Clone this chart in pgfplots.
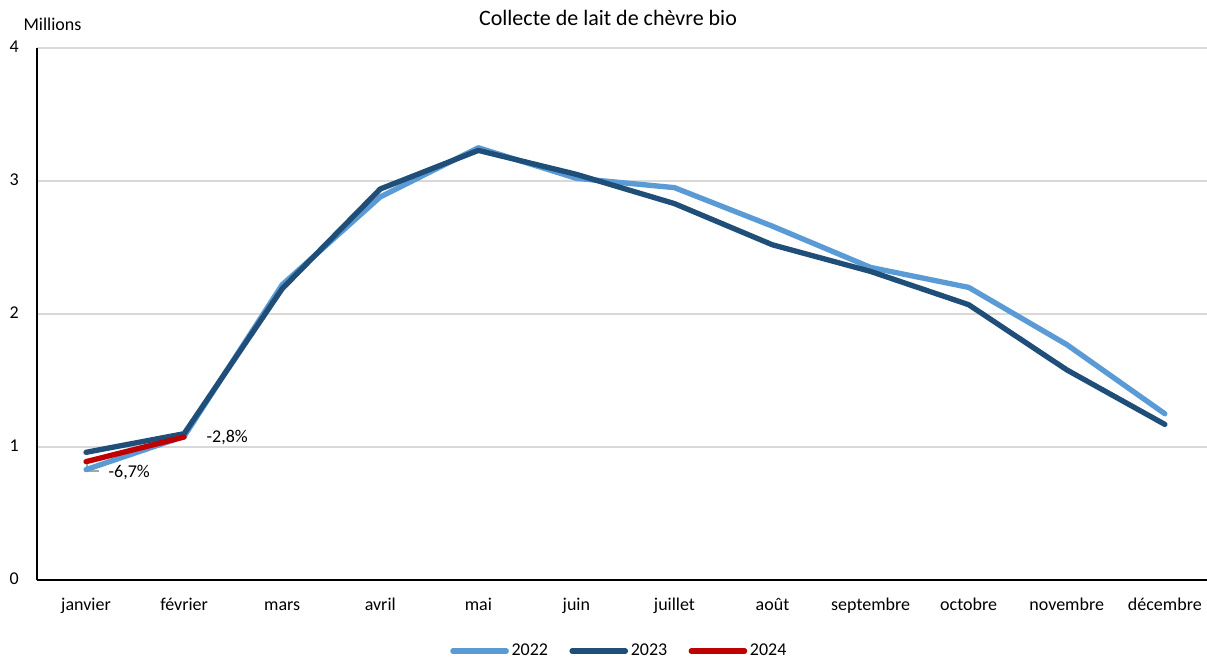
\documentclass[border=0pt]{standalone}
\usepackage{pgfplots}
\pgfplotsset{compat=1.18}
\usepackage{fontspec}
\setmainfont{Carlito}
\definecolor{c22}{RGB}{91,155,213}
\definecolor{c23}{RGB}{31,78,121}
\definecolor{c24}{RGB}{192,0,0}
\definecolor{gridc}{RGB}{217,217,217}
\begin{document}
\fontsize{13.5}{16}\selectfont
\begin{tikzpicture}
\begin{axis}[
  scale only axis,
  width=877.5pt, height=399pt,
  xmin=-0.5, xmax=11.43,
  ymin=0, ymax=4,
  ytick={0,1,2,3,4},
  xtick={0,...,11},
  xticklabels={janvier,février,mars,avril,mai,juin,juillet,août,septembre,octobre,novembre,décembre},
  typeset ticklabels with strut,
  axis x line*=bottom, axis y line*=left,
  axis line style={black, line width=1.2pt},
  major tick length=0pt,
  ymajorgrids, grid style={gridc, line width=1.2pt},
  yticklabel style={xshift=-9pt},
  xticklabel style={yshift=-7pt},
  /pgf/number format/assume math mode=true,
  ticklabel style={font=\fontsize{13.5}{16}\selectfont},
  legend columns=3,
  legend style={at={(axis description cs:0.498,-0.1335)}, anchor=center, draw=none,
    font=\fontsize{13.5}{16}\selectfont, /tikz/every even column/.append style={column sep=14pt}},
  legend image code/.code={\draw[#1, line width=4pt, line cap=round] (0pt,0pt) -- (40pt,0pt);},
  clip=false,
]
\draw[gray!70, line width=1pt] (axis cs:0.01,0.89) -- (axis cs:0.01,0.82) -- (axis cs:0.13,0.82);
\addplot[c22, line width=4pt, line cap=round, line join=round] coordinates {
(0,0.83) (1,1.08) (2,2.22) (3,2.88) (4,3.25) (5,3.02) (6,2.95) (7,2.66) (8,2.35) (9,2.20) (10,1.77) (11,1.25)};
\addlegendentry{2022}
\addplot[c23, line width=4pt, line cap=round, line join=round] coordinates {
(0,0.96) (1,1.10) (2,2.19) (3,2.94) (4,3.23) (5,3.05) (6,2.83) (7,2.52) (8,2.32) (9,2.07) (10,1.58) (11,1.17)};
\addlegendentry{2023}
\addplot[c24, line width=4pt, line cap=round, line join=round] coordinates {
(0,0.89) (1,1.075)};
\addlegendentry{2024}
\node at (axis cs:0.44,0.81) {-6,7\%};
\node at (axis cs:1.44,1.07) {-2,8\%};
\end{axis}
\node at (11.6pt,417pt) {Millions};
\node at (428.25pt,421.5pt) {\fontsize{16.5}{19}\selectfont Collecte de lait de chèvre bio};
\pgfresetboundingbox
\useasboundingbox (-27.75pt,-58.5pt) rectangle (877.5pt,435pt);
\end{tikzpicture}
\end{document}
